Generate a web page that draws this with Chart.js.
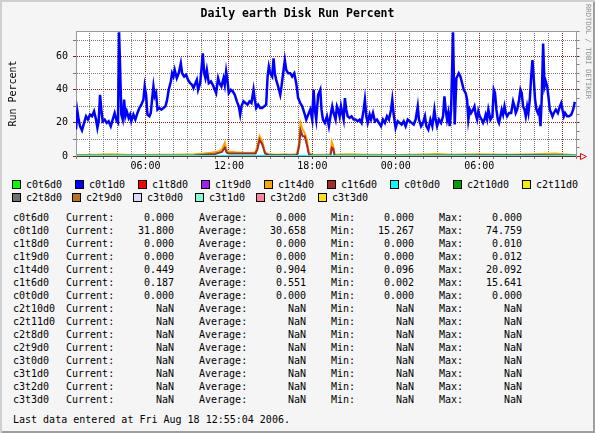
<!DOCTYPE html>
<html>
<head>
<meta charset="utf-8">
<script src="https://cdn.jsdelivr.net/npm/chart.js@4.4.0/dist/chart.umd.min.js"></script>
<style>
html, body { margin: 0; padding: 0; }
body { width: 595px; height: 433px; overflow: hidden; }
#frame {
    position: relative;
    width: 595px;
    height: 433px;
    background: #f5f5f5;
    box-shadow: inset 2px 2px 0 #cfcfcf, inset -2px -2px 0 #9e9e9e;
    font-family: "DejaVu Sans Mono", monospace;
    font-size: 10px;
    color: #000;
}
#chart { position: absolute; left: 0; top: 0; }
.vendor {
    position: absolute;
    left: 584px;
    top: 4px;
    writing-mode: vertical-rl;
    font-size: 7.2px;
    line-height: 9px;
    color: #909090;
    white-space: pre;
}
.lg-box { position: absolute; width: 7px; height: 7px; border: 1px solid #000; }
.txt { position: absolute; white-space: pre; line-height: 13px; }
.num { position: absolute; white-space: pre; line-height: 13px; width: 70px; text-align: right; }
</style>
</head>
<body>
<div id="frame">
    <canvas id="chart" width="595" height="175"></canvas>
    <div class="vendor">RRDTOOL / TOBI OETIKER</div>
</div>
<script>
const chartTitle = 'Daily earth Disk Run Percent';
const yTitle = 'Run Percent';

const seriesNames = ['c0t6d0', 'c0t1d0', 'c1t8d0', 'c1t9d0', 'c1t4d0', 'c1t6d0', 'c0t0d0',
    'c2t10d0', 'c2t11d0', 'c2t8d0', 'c2t9d0', 'c3t0d0', 'c3t1d0', 'c3t2d0', 'c3t3d0'];
const seriesColors = ['#00ff00', '#0000ff', '#ff0000', '#a020f0', '#ffa500', '#a52a2a', '#00ffff',
    '#00a000', '#f0f000', '#707070', '#b8731e', '#dcd8ff', '#7fffd4', '#ff82a0', '#ffe11a'];

const currentVals = ['0.000', '31.800', '0.000', '0.000', '0.449', '0.187', '0.000',
    'NaN', 'NaN', 'NaN', 'NaN', 'NaN', 'NaN', 'NaN', 'NaN'];
const averageVals = ['0.000', '30.658', '0.000', '0.000', '0.904', '0.551', '0.000',
    'NaN', 'NaN', 'NaN', 'NaN', 'NaN', 'NaN', 'NaN', 'NaN'];
const minVals = ['0.000', '15.267', '0.000', '0.000', '0.096', '0.002', '0.000',
    'NaN', 'NaN', 'NaN', 'NaN', 'NaN', 'NaN', 'NaN', 'NaN'];
const maxVals = ['0.000', '74.759', '0.010', '0.012', '20.092', '15.641', '0.000',
    'NaN', 'NaN', 'NaN', 'NaN', 'NaN', 'NaN', 'NaN', 'NaN'];
const lastUpdate = 'Last data entered at Fri Aug 18 12:55:04 2006.';

// time axis in hours since 00:00 of the first day (graph runs 01:00 -> 13:00 next day)
const xTickHours = [6, 12, 18, 24, 30];
const xTickLabels = ['06:00', '12:00', '18:00', '00:00', '06:00'];

const hoursC0t1d0 = [
    1.00, 1.10, 1.19, 1.29, 1.43, 1.58, 1.72, 1.86, 2.01, 2.15,
    2.30, 2.44, 2.54, 2.63, 2.73, 2.82, 2.92, 3.06, 3.21, 3.35,
    3.50, 3.64, 3.78, 3.93, 4.02, 4.10, 4.19, 4.26, 4.36, 4.46,
    4.55, 4.65, 4.79, 4.89, 4.98, 5.13, 5.27, 5.42, 5.56, 5.70,
    5.85, 5.94, 6.04, 6.14, 6.28, 6.38, 6.47, 6.57, 6.66, 6.76,
    6.86, 7.00, 7.14, 7.29, 7.43, 7.53, 7.67, 7.82, 7.91, 8.01,
    8.10, 8.25, 8.39, 8.54, 8.63, 8.78, 8.92, 9.06, 9.21, 9.35,
    9.45, 9.59, 9.69, 9.78, 9.93, 10.02, 10.12, 10.22, 10.31, 10.41,
    10.55, 10.70, 10.84, 10.98, 11.08, 11.22, 11.32, 11.46, 11.61, 11.70,
    11.80, 11.90, 11.99, 12.14, 12.28, 12.42, 12.57, 12.71, 12.81, 12.90,
    13.05, 13.19, 13.34, 13.48, 13.62, 13.77, 13.86, 13.96, 14.10, 14.25,
    14.39, 14.54, 14.68, 14.78, 14.87, 14.97, 15.11, 15.21, 15.30, 15.40,
    15.54, 15.69, 15.78, 15.93, 16.02, 16.12, 16.26, 16.41, 16.55, 16.70,
    16.84, 16.98, 17.13, 17.27, 17.42, 17.56, 17.70, 17.85, 17.99, 18.09,
    18.18, 18.28, 18.42, 18.57, 18.66, 18.76, 18.90, 19.05, 19.19, 19.34,
    19.43, 19.53, 19.67, 19.77, 19.86, 19.96, 20.06, 20.15, 20.25, 20.34,
    20.44, 20.54, 20.68, 20.82, 20.97, 21.11, 21.26, 21.40, 21.54, 21.69,
    21.78, 21.88, 21.98, 22.12, 22.22, 22.36, 22.50, 22.65, 22.79, 22.94,
    23.08, 23.22, 23.37, 23.51, 23.66, 23.75, 23.85, 23.99, 24.14, 24.28,
    24.42, 24.57, 24.71, 24.86, 25.00, 25.14, 25.29, 25.43, 25.58, 25.67,
    25.82, 25.96, 26.10, 26.20, 26.34, 26.49, 26.63, 26.78, 26.87, 26.97,
    27.11, 27.26, 27.40, 27.50, 27.59, 27.69, 27.78, 27.88, 27.98, 28.12,
    28.24, 28.36, 28.53, 28.65, 28.89, 29.03, 29.13, 29.22, 29.32, 29.42,
    29.56, 29.66, 29.75, 29.85, 29.94, 30.04, 30.18, 30.28, 30.38, 30.47,
    30.57, 30.66, 30.81, 30.95, 31.05, 31.14, 31.24, 31.34, 31.43, 31.53,
    31.62, 31.72, 31.82, 31.91, 32.01, 32.15, 32.30, 32.44, 32.54, 32.63,
    32.73, 32.87, 32.97, 33.06, 33.16, 33.26, 33.35, 33.45, 33.54, 33.64,
    33.74, 33.83, 33.93, 34.02, 34.12, 34.22, 34.31, 34.41, 34.50, 34.60,
    34.70, 34.79, 34.89, 34.98, 35.08, 35.18, 35.27, 35.37, 35.51, 35.66,
    35.80, 35.90, 35.99, 36.09, 36.18, 36.33, 36.47, 36.62, 36.76, 36.86,
    36.95
];
const valuesC0t1d0 = [
    16, 27, 22, 18, 15.5, 20, 24, 22, 25, 24,
    27, 22, 17, 21, 37, 28, 21, 22, 20, 21,
    18, 22, 26, 21, 20, 74.7, 48, 25, 22, 34,
    24, 27, 23, 25, 21, 25, 22, 26, 29, 31,
    34, 42, 37, 25, 24, 26, 34, 42, 36, 38,
    28, 29, 28, 29, 30, 33, 40, 45, 50, 48,
    52, 47, 50, 56, 50, 48, 49, 46, 44, 43,
    41, 44, 46, 40, 44, 52, 62, 50, 47, 52,
    44, 45, 43, 40, 38, 47, 44, 42, 47, 43,
    51, 45, 38, 40, 39, 37, 33, 30, 25, 30,
    33, 32, 31, 33, 32, 40, 34, 29, 31, 29,
    29, 30, 31, 48, 54, 50, 48, 59, 50, 46,
    42, 37, 42, 52, 58, 52, 50, 50, 48, 50,
    44, 35, 32, 30, 26, 22, 25, 28, 22, 40,
    28, 22, 37, 40, 28, 22, 20, 24, 18, 26,
    30, 26, 22, 30, 28, 24, 30, 26, 22, 35,
    28, 24, 23, 24, 22, 22, 21, 22, 20, 28,
    34, 24, 20, 25, 22, 26, 21, 22, 20, 18,
    22, 20, 24, 22, 28, 34, 25, 17, 21, 20,
    19, 21, 18, 22, 21, 20, 19, 22, 30, 22,
    18, 20, 24, 18, 16, 22, 18, 28, 22, 18,
    22, 20, 24, 36, 28, 22, 26, 18, 28, 74.7,
    19, 47, 50, 48, 40, 38, 34, 22, 28, 26,
    28, 30, 25, 22, 27, 24, 22, 20, 22, 25,
    22, 28, 22, 24, 40, 38, 28, 22, 20, 24,
    28, 25, 30, 26, 24, 26, 26, 33, 30, 26,
    28, 34, 40, 38, 30, 28, 24, 30, 26, 34,
    48, 58, 46, 34, 28, 26, 28, 18, 35, 68,
    42, 45, 42, 36, 28, 26, 24, 26, 28, 26,
    30, 32, 28, 24, 26, 24, 24, 25, 28, 32,
    31.8
];

const hoursC1t4d0 = [1.0, 2.5, 3.5, 5.0, 6.5, 8.0, 9.5, 10.2, 10.7, 11.2,
    11.5, 11.7, 11.85, 12.0, 12.5, 13.0, 13.5, 13.9, 14.05, 14.2,
    14.4, 14.6, 14.9, 15.5, 16.0, 16.5, 16.9, 17.05, 17.15, 17.3,
    17.45, 17.6, 17.75, 18.0, 18.5, 19.3, 19.4, 19.5, 19.6, 20.5,
    22, 24, 26, 27, 28, 30, 32, 34, 35.5, 36, 37];
const valuesC1t4d0 = [0.6, 0.8, 1.0, 0.6, 0.8, 0.7, 1.0, 1.5, 2.0, 2.5,
    4, 8, 3, 2.5, 2.2, 2.0, 1.8, 2.2, 6, 12,
    9, 2, 1.0, 0.8, 1.0, 0.8, 1.2, 8, 20, 16,
    14, 10, 2, 0.6, 0.8, 0.8, 8.5, 6, 0.8, 1.0,
    0.8, 0.6, 0.9, 1.2, 0.8, 1.0, 0.7, 1.0, 1.5, 1.0, 0.45];

const hoursC1t6d0 = [1.0, 5, 9.5, 10.2, 11.0, 11.5, 11.7, 11.85, 12.0, 13.0,
    13.9, 14.05, 14.2, 14.4, 14.6, 14.9, 16.9, 17.05, 17.15, 17.3,
    17.45, 17.6, 17.75, 18.0, 19.3, 19.4, 19.5, 19.6, 24, 33, 35, 37];
const valuesC1t6d0 = [0.2, 0.2, 0.3, 0.8, 1.2, 2.5, 5, 2, 1.5, 1.5,
    1.5, 4, 10, 7, 1.5, 0.4, 0.4, 6, 15.6, 12,
    12, 7, 1, 0.2, 0.2, 5, 4.5, 0.2, 0.2, 0.4, 0.5, 0.19];

const hoursFlat = [1, 37];
const valuesC0t6d0 = [0, 0];
const valuesC1t8d0 = [0, 0];
const valuesC1t9d0 = [0, 0];
const valuesC0t0d0 = [0, 0];

const seriesData = {
    c0t6d0: [hoursFlat, valuesC0t6d0],
    c0t1d0: [hoursC0t1d0, valuesC0t1d0],
    c1t8d0: [hoursFlat, valuesC1t8d0],
    c1t9d0: [hoursFlat, valuesC1t9d0],
    c1t4d0: [hoursC1t4d0, valuesC1t4d0],
    c1t6d0: [hoursC1t6d0, valuesC1t6d0],
    c0t0d0: [hoursFlat, valuesC0t0d0]
};

// ---- layout (not data) ----
const FONT = "'DejaVu Sans Mono', monospace";
const MAJOR = '#821e1e';
const MINOR = '#7a7a7a';
const legendBoxX = [12, 75, 138, 201, 264, 327, 390, 453, 522, 12, 72, 133, 195, 256, 318];
const legendRowY = [180, 193];

const frame = document.getElementById('frame');

function addDiv(cls, text, left, top) {
    const d = document.createElement('div');
    d.className = cls;
    d.textContent = text;
    d.style.left = left + 'px';
    d.style.top = top + 'px';
    frame.appendChild(d);
    return d;
}

seriesNames.forEach((name, i) => {
    const x = legendBoxX[i];
    const y = legendRowY[i < 9 ? 0 : 1];
    const box = addDiv('lg-box', '', x, y);
    box.style.background = seriesColors[i];
    addDiv('txt', name, x + 14, y - 2.5);
});

seriesNames.forEach((name, i) => {
    const top = 211 + 13 * i;
    addDiv('txt', name, 13, top);
    addDiv('txt', 'Current:', 66, top);
    addDiv('num', currentVals[i], 174 - 70, top);
    addDiv('txt', 'Average:', 199, top);
    addDiv('num', averageVals[i], 306 - 70, top);
    addDiv('txt', 'Min:', 331, top);
    addDiv('num', minVals[i], 414 - 70, top);
    addDiv('txt', 'Max:', 439, top);
    addDiv('num', maxVals[i], 522 - 70, top);
});
addDiv('txt', lastUpdate, 13, 413);

const datasets = seriesNames.map((name, i) => {
    const src = seriesData[name];
    const points = src ? src[0].map((h, k) => ({x: h, y: src[1][k]})) : [];
    return {
        label: name,
        data: points,
        borderColor: seriesColors[i],
        backgroundColor: seriesColors[i],
        borderWidth: name === 'c0t1d0' ? 2.5 : 2,
        pointRadius: 0,
        tension: 0,
        fill: false,
        order: 100 - i
    };
});

const canvasBg = {
    id: 'canvasBg',
    beforeDraw(chart) {
        const {ctx, chartArea: a} = chart;
        ctx.save();
        ctx.fillStyle = '#ffffff';
        ctx.fillRect(a.left, a.top, a.right - a.left, a.bottom - a.top);
        ctx.restore();
    }
};

const frameArrow = {
    id: 'frameArrow',
    afterDraw(chart) {
        const {ctx, chartArea: a} = chart;
        ctx.save();
        ctx.fillStyle = '#999999';
        ctx.fillRect(Math.floor(a.left), Math.floor(a.top), Math.ceil(a.right - a.left) + 1, 1);
        const y = Math.round(a.bottom) + 0.5;
        const x = Math.round(a.right);
        ctx.strokeStyle = '#ff0000';
        ctx.lineWidth = 1;
        ctx.beginPath();
        ctx.moveTo(x, y);
        ctx.lineTo(x + 3, y);
        ctx.moveTo(x + 3.5, y - 3);
        ctx.lineTo(x + 9.5, y);
        ctx.lineTo(x + 3.5, y + 3);
        ctx.closePath();
        ctx.stroke();
        ctx.restore();
    }
};

Chart.defaults.font.family = FONT;
Chart.defaults.font.size = 10;
Chart.defaults.color = '#000000';

new Chart(document.getElementById('chart'), {
    type: 'line',
    data: { datasets: datasets },
    plugins: [canvasBg, frameArrow],
    options: {
        responsive: false,
        animation: false,
        devicePixelRatio: 1,
        events: [],
        layout: { padding: 0 },
        plugins: {
            legend: { display: false },
            tooltip: { enabled: false },
            title: {
                display: true,
                text: chartTitle,
                color: '#000000',
                font: { family: FONT, size: 11.5, weight: 'bold' },
                padding: { top: 7.6, bottom: 9.6 }
            }
        },
        scales: {
            x: {
                type: 'linear',
                min: 1,
                max: 37,
                afterFit: s => { s.height = 19; },
                border: { display: true, color: '#404040', width: 1, dash: [1, 1] },
                grid: {
                    color: c => (c.tick && c.tick.value % 6 === 0) ? MAJOR : MINOR,
                    tickColor: c => (c.tick && c.tick.value % 6 === 0) ? MAJOR : MINOR,
                    tickLength: 3,
                    lineWidth: 1
                },
                ticks: {
                    stepSize: 1,
                    autoSkip: false,
                    maxRotation: 0,
                    padding: 1,
                    color: '#000000',
                    callback: v => {
                        const k = xTickHours.indexOf(v);
                        return k >= 0 ? xTickLabels[k] : '';
                    }
                }
            },
            y: {
                type: 'linear',
                position: 'left',
                min: 0,
                max: 75.5,
                afterFit: s => { s.width = 76; },
                border: { display: true, color: '#999999', width: 1, dash: [1, 1] },
                grid: {
                    color: c => (c.tick && c.tick.value % 20 === 0) ? MAJOR : MINOR,
                    tickColor: c => (c.tick && c.tick.value % 20 === 0) ? MAJOR : MINOR,
                    tickLength: 3,
                    lineWidth: 1
                },
                title: {
                    display: true,
                    text: yTitle,
                    color: '#000000',
                    font: { family: FONT, size: 10 },
                    padding: { top: 7, bottom: 0 }
                },
                ticks: {
                    stepSize: 5,
                    padding: 5,
                    color: '#000000',
                    callback: v => (v % 20 === 0 ? String(v) : '')
                }
            },
            y2: {
                type: 'linear',
                position: 'right',
                min: 0,
                max: 75.5,
                afterFit: s => { s.width = 18.5; },
                border: { display: true, color: '#999999', width: 1 },
                grid: {
                    drawOnChartArea: false,
                    color: c => (c.tick && c.tick.value % 20 === 0) ? MAJOR : MINOR,
                    tickLength: 3
                },
                ticks: { stepSize: 5, display: false }
            }
        }
    }
});
</script>
</body>
</html>
